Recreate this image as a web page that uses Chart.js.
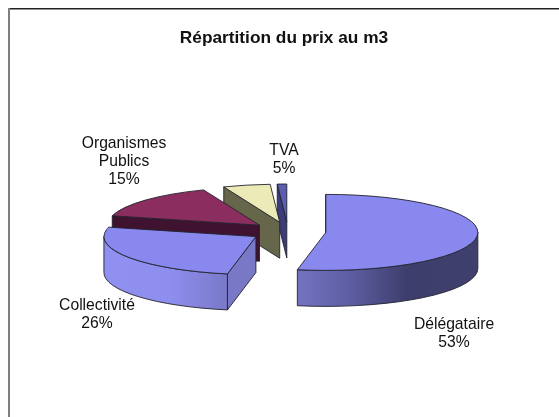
<!DOCTYPE html>
<html>
<head>
<meta charset="utf-8">
<title>Répartition du prix au m3</title>
<script src="https://cdn.jsdelivr.net/npm/chart.js@4/dist/chart.umd.min.js"></script>
<style>
    html, body { margin: 0; padding: 0; background: #fff; }
    #wrap { position: relative; width: 559px; height: 417px; }
</style>
</head>
<body>
<div id="wrap"><canvas id="pie-chart" width="559" height="417"></canvas></div>
<script>
// Chart data
const chartTitle = 'Répartition du prix au m3';
const categories = ['Délégataire', 'Collectivité', 'Organismes Publics', 'TVA', ''];
const shares = [53, 26, 15, 5, 1];

// Slice colours: top surface, then the flat cut face of each slice
const topColors = ['#8888ee', '#8888ee', '#8b2d5e', '#ecebb8', '#5c5cb0'];
const faceColors = ['#7474c0', '#7878c6', '#3f1230', '#66664a', '#3c3c78'];

const SQUASH = 0.25;  // tilt of the pie
const DEPTH = 36;     // height of the pie wall
const EXPLODE = 38;   // how far each slice is pulled out
const FONT = '"Liberation Sans", Arial, sans-serif';

// Label text is centred on these anchors (the small last slice has none)
const labelAnchors = [
    { x: 454, y: 325, lines: [categories[0]] },
    { x: 97, y: 306, lines: [categories[1]] },
    { x: 124, y: 144, lines: ['Organismes', 'Publics'] },
    { x: 284, y: 151, lines: [categories[3]] }
];

function sliceGeometry(arc) {
    const mid = (arc.startAngle + arc.endAngle) / 2;
    return {
        dx: Math.cos(mid) * EXPLODE,
        dy: Math.sin(mid) * EXPLODE,
        cx: arc.x + Math.cos(mid) * EXPLODE,
        cy: arc.y + Math.sin(mid) * EXPLODE * SQUASH,
        rx: arc.outerRadius,
        ry: arc.outerRadius * SQUASH,
        start: arc.startAngle,
        end: arc.endAngle
    };
}

function rimGradient(ctx) {
    const g = ctx.createLinearGradient(104, 0, 478, 0);
    g.addColorStop(0, '#9090f0');
    g.addColorStop(0.176, '#8e8eee');
    g.addColorStop(0.337, '#7878c6');
    g.addColorStop(0.524, '#7272be');
    g.addColorStop(0.65, '#5f5fa5');
    g.addColorStop(0.81, '#3e3e6c');
    g.addColorStop(1, '#40406e');
    return g;
}

function drawWalls(ctx, s, index) {
    ctx.strokeStyle = '#23232f';
    ctx.lineWidth = 0.9;

    // flat face along the starting edge
    const ex = s.cx + Math.cos(s.start) * s.rx;
    const ey = s.cy + Math.sin(s.start) * s.ry;
    ctx.beginPath();
    ctx.moveTo(s.cx, s.cy);
    ctx.lineTo(ex, ey);
    ctx.lineTo(ex, ey + DEPTH);
    ctx.lineTo(s.cx, s.cy + DEPTH);
    ctx.closePath();
    ctx.fillStyle = faceColors[index];
    ctx.fill();
    ctx.stroke();

    // outer wall, only the front half of the ellipse shows
    const a0 = Math.max(s.start, 0);
    const a1 = Math.min(s.end, Math.PI);
    if (a1 > a0) {
        ctx.beginPath();
        ctx.ellipse(s.cx, s.cy, s.rx, s.ry, 0, a0, a1);
        ctx.ellipse(s.cx, s.cy + DEPTH, s.rx, s.ry, 0, a1, a0, true);
        ctx.closePath();
        ctx.fillStyle = rimGradient(ctx);
        ctx.fill();
        ctx.stroke();
    }
}

const pie3d = {
    id: 'pie3d',
    // the arcs are squashed and stacked here instead of the default flat draw
    beforeDatasetDraw(chart) {
        const ctx = chart.ctx;
        const arcs = chart.getDatasetMeta(0).data;
        const order = arcs.map((arc, i) => ({ arc, i, s: sliceGeometry(arc) }))
            .sort((a, b) => a.s.cy - b.s.cy);

        order.forEach(({ arc, i, s }) => {
            drawWalls(ctx, s, i);

            ctx.save();
            ctx.translate(arc.x, arc.y);
            ctx.scale(1, SQUASH);
            ctx.translate(s.dx - arc.x, s.dy - arc.y);
            arc.draw(ctx);
            ctx.restore();

            ctx.beginPath();
            ctx.moveTo(s.cx, s.cy);
            ctx.ellipse(s.cx, s.cy, s.rx, s.ry, 0, s.start, s.end);
            ctx.closePath();
            ctx.strokeStyle = '#23232f';
            ctx.lineWidth = 0.9;
            ctx.stroke();
        });
        return false;
    },
    afterDraw(chart) {
        const ctx = chart.ctx;
        ctx.save();

        // frame: the original only shows the top and left edges
        ctx.fillStyle = '#222222';
        ctx.fillRect(8, 8, 551, 1.5);
        ctx.fillStyle = '#7f7f7f';
        ctx.fillRect(8, 8, 2, 409);

        ctx.fillStyle = '#111111';
        ctx.textAlign = 'center';
        ctx.textBaseline = 'middle';
        ctx.font = 'bold 17.3px ' + FONT;
        ctx.fillText(chartTitle, 284, 38);

        ctx.font = '15.7px ' + FONT;
        labelAnchors.forEach((a, i) => {
            const lines = a.lines.concat(shares[i] + '%');
            lines.forEach((line, n) => ctx.fillText(line, a.x, a.y + n * 18));
        });
        ctx.restore();
    }
};

const pieChart = new Chart(
    document.getElementById('pie-chart'),
    {
        type: 'pie',
        data: {
            labels: categories,
            datasets: [
                {
                    data: shares,
                    backgroundColor: topColors,
                    borderWidth: 0
                }
            ]
        },
        options: {
            responsive: false,
            animation: false,
            events: [],
            radius: 152,
            layout: { padding: { left: 17, top: 46 } },
            plugins: {
                legend: { display: false },
                title: { display: false },
                tooltip: { enabled: false }
            }
        },
        plugins: [pie3d]
    }
);
</script>
</body>
</html>
